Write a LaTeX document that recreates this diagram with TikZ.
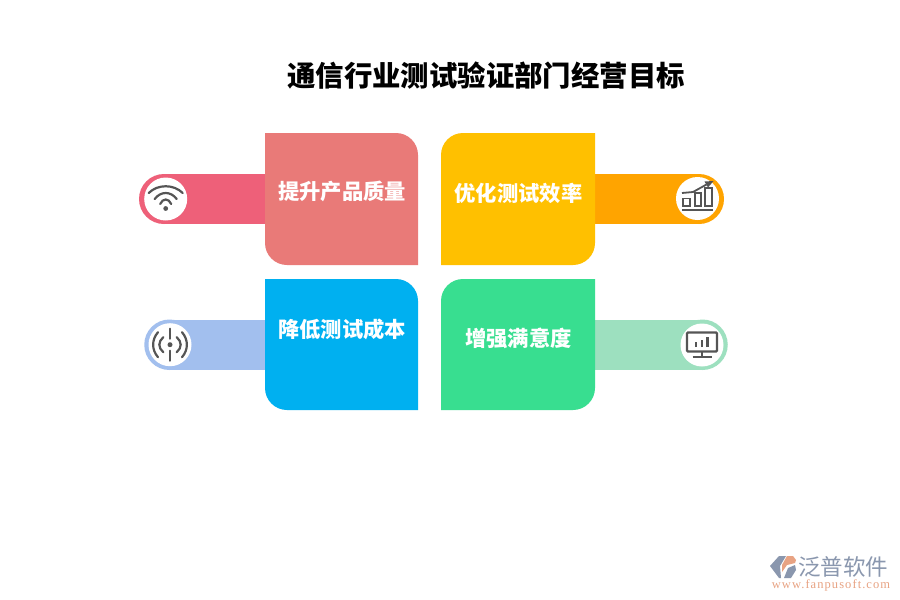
\documentclass[tikz,border=0pt]{standalone}
\usepackage{fontspec}
\setmainfont{Liberation Serif}
\newfontfamily\cjk{Noto Sans CJK SC}
\newfontfamily\urlfont[LetterSpace=8.5]{Liberation Serif}
\definecolor{cA}{HTML}{E97A78}
\definecolor{pA}{HTML}{EE6079}
\definecolor{cB}{HTML}{FFC000}
\definecolor{pB}{HTML}{FFA400}
\definecolor{cC}{HTML}{00B0F0}
\definecolor{pC}{HTML}{A2BFEE}
\definecolor{cD}{HTML}{38DE90}
\definecolor{pD}{HTML}{9DE0BF}
\definecolor{ico}{HTML}{555555}
\definecolor{lgB}{HTML}{8A97AE}
\definecolor{lgO}{HTML}{E8A383}
\tikzset{x=1pt,y=-1pt,
 cardtext/.style={text=white,font=\cjk\bfseries\fontsize{21.3}{24}\selectfont,inner sep=0pt},
 icoline/.style={draw=ico,line width=2.2pt,line cap=round,fill=none},
 icon/.style={circle,fill=white,draw=none,minimum size=43pt,inner sep=0pt}}
\begin{document}
\begin{tikzpicture}
\useasboundingbox (0,0) rectangle (900,600);
\fill[white] (0,0) rectangle (900,600);
% pills
\fill[pA] (164,199) circle[radius=25]; \fill[pA] (164,174) rectangle (265,224);
\fill[pB] (699,199) circle[radius=25]; \fill[pB] (595,174) rectangle (699,224);
\fill[pC] (169.5,344.75) circle[radius=25.25]; \fill[pC] (169.5,319.5) rectangle (265,370);
\fill[pD] (702.5,344.75) circle[radius=25.25]; \fill[pD] (595,319.5) rectangle (702.5,370);
% cards
\fill[cA] (265,133) -- (396,133) .. controls (408.15,133) and (418,142.85) .. (418,155) -- (418,265) -- (287,265) .. controls (274.85,265) and (265,255.15) .. (265,243) -- cycle;
\fill[cB] (595,133) -- (463,133) .. controls (450.85,133) and (441,142.85) .. (441,155) -- (441,265) -- (573,265) .. controls (585.15,265) and (595,255.15) .. (595,243) -- cycle;
\fill[cC] (265,279) -- (396,279) .. controls (408.15,279) and (418,288.85) .. (418,301) -- (418,410) -- (287,410) .. controls (274.85,410) and (265,400.15) .. (265,388) -- cycle;
\fill[cD] (595,279) -- (463,279) .. controls (450.85,279) and (441,288.85) .. (441,301) -- (441,410) -- (573,410) .. controls (585.15,410) and (595,400.15) .. (595,388) -- cycle;
% title and labels
\node[font=\cjk\bfseries\fontsize{28.4}{32}\selectfont,text=black,inner sep=0pt] (title) at (486,75.5) {通信行业测试验证部门经营目标};
\node[cardtext] (tA) at (342,191.5) {提升产品质量};
\node[cardtext] (tB) at (518.5,193) {优化测试效率};
\node[cardtext] (tC) at (342,329.5) {降低测试成本};
\node[cardtext] (tD) at (518.5,338) {增强满意度};
% icon discs
\node[icon] (iA) at (165.7,199) {};
\node[icon] (iB) at (697.5,198.5) {};
\node[icon] (iC) at (170,344.7) {};
\node[icon] (iD) at (702,345) {};
% wifi
\begin{scope}[shift={(iA)}]
 \draw[icoline] (-17,-6) .. controls (-8,-15) and (8,-15) .. (17,-6);
 \draw[icoline] (-11,0) .. controls (-5,-8) and (5,-8) .. (11,0);
 \draw[icoline] (-5.5,5) .. controls (-3,-1) and (3,-1) .. (5.5,5);
 \fill[ico] (0,9.5) circle[radius=2.4];
\end{scope}
% chart up
\begin{scope}[shift={(iB)}]
 \draw[ico,line width=2pt] (-15.5,11.5) -- (15.5,11.5);
 \draw[ico,line width=1.9pt] (-14.5,0) rectangle (-7.5,7.5);
 \draw[ico,line width=1.9pt] (-2.5,-5.5) rectangle (3.5,7.5);
 \draw[ico,line width=1.9pt] (7.5,-10.5) rectangle (14.5,7.5);
 \draw[ico,line width=1.8pt] (-15.5,-5.5) -- (-4.5,-6.5) -- (9,-14);
 \fill[ico] (16,-17.5) -- (7,-17) -- (10.5,-11) -- cycle;
\end{scope}
% signal
\begin{scope}[shift={(iC)}]
 \fill[ico] (0,0) circle[radius=2.5];
 \draw[icoline] (0,-16) -- (0,-6);
 \draw[icoline] (0,6) -- (0,16);
 \draw[icoline] (-6.7,-7.5) .. controls (-12,-3) and (-12,3) .. (-6.7,7.5);
 \draw[icoline] (6.7,-7.5) .. controls (12,-3) and (12,3) .. (6.7,7.5);
 \draw[icoline] (-12,-12.5) .. controls (-18.5,-5) and (-18.5,5) .. (-12,12.5);
 \draw[icoline] (12,-12.5) .. controls (18.5,-5) and (18.5,5) .. (12,12.5);
\end{scope}
% monitor
\begin{scope}[shift={(iD)}]
 \draw[ico,line width=2.2pt,rounded corners=1pt] (-15,-12.5) rectangle (15,6.5);
 \draw[ico,line width=2.2pt] (0,6.5) -- (0,12);
 \draw[ico,line width=2.2pt] (-9.5,12) -- (9.5,12);
 \draw[ico,line width=2.4pt] (-6,2) -- (-6,-3);
 \draw[ico,line width=2.4pt] (0,2) -- (0,-5);
 \draw[ico,line width=2.4pt] (5.5,2) -- (5.5,-8);
\end{scope}
% logo
\fill[lgB] (770,566) -- (779,556) -- (786,556) -- (780,566) -- (781,578) -- (779,578) -- cycle;
\fill[lgO] (787,556) -- (793,556) -- (796,560) -- (795,563) -- (787,565) -- (782,572) -- (782,565) -- cycle;
\fill[lgB] (784,578) -- (791,578) -- (796,570) -- (795,565) -- (788,568) -- (786,573) -- cycle;
\node[text=lgB,font=\cjk\fontsize{22.5}{24}\selectfont,inner sep=0pt] (lgt) at (843,566.5) {泛普软件};
\node[text=lgO,font=\urlfont\fontsize{12.5}{13}\selectfont,inner sep=0pt] (lgu) at (831,585) {www.fanpusoft.com};
\end{tikzpicture}
\end{document}
